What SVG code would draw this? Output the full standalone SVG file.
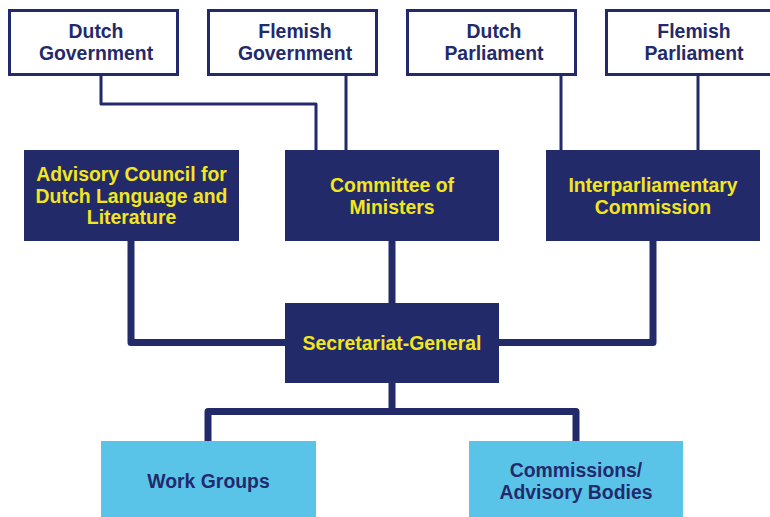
<svg xmlns="http://www.w3.org/2000/svg" width="770" height="517" viewBox="0 0 770 517">
  <style>
    text { font-family: "Liberation Sans", Arial, sans-serif; font-weight: bold; font-size: 19.4px; text-anchor: middle; }
    .outline rect { fill: #ffffff; stroke: #232a6b; stroke-width: 3; }
    .outline text { fill: #232a6b; }
    .dark rect { fill: #222a6a; }
    .dark text { fill: #f3e61c; }
    .light rect { fill: #5ac4e8; }
    .light text { fill: #232a6b; }
    .thin { fill: none; stroke: #232a6b; stroke-width: 3; stroke-linejoin: round; }
    .thick { fill: none; stroke: #222a6a; stroke-width: 7; stroke-linejoin: round; }
  </style>
  <rect width="770" height="517" fill="#ffffff"/>

  <!-- connectors -->
  <g id="connectors">
    <path class="thin" d="M101 75 V104 H316 V150"/>
    <path class="thin" d="M346 75 V150"/>
    <path class="thin" d="M561 75 V150"/>
    <path class="thin" d="M698 75 V150"/>
    <path class="thick" d="M131 241 V342.5 H285"/>
    <path class="thick" d="M653 241 V342.5 H499"/>
    <path class="thick" d="M392 241 V303"/>
    <path class="thick" d="M392 383 V411.5"/>
    <path class="thick" d="M208 441 V411.5 H576 V441"/>
  </g>

  <!-- top row -->
  <g id="dutch-government" class="outline">
    <rect x="9.5" y="10.5" width="168" height="64"/>
    <text x="96" y="38">Dutch</text>
    <text x="96" y="60">Government</text>
  </g>
  <g id="flemish-government" class="outline">
    <rect x="208.5" y="10.5" width="168" height="64"/>
    <text x="295" y="38">Flemish</text>
    <text x="295" y="60">Government</text>
  </g>
  <g id="dutch-parliament" class="outline">
    <rect x="407.5" y="10.5" width="168" height="64"/>
    <text x="494" y="38">Dutch</text>
    <text x="494" y="60">Parliament</text>
  </g>
  <g id="flemish-parliament" class="outline">
    <rect x="606.5" y="10.5" width="168" height="64"/>
    <text x="694" y="38">Flemish</text>
    <text x="694" y="60">Parliament</text>
  </g>

  <!-- middle row -->
  <g id="advisory-council" class="dark">
    <rect x="24" y="150" width="215" height="91"/>
    <text x="131.5" y="181">Advisory Council for</text>
    <text x="131.5" y="202.5">Dutch Language and</text>
    <text x="131.5" y="224">Literature</text>
  </g>
  <g id="committee-of-ministers" class="dark">
    <rect x="285" y="150" width="214" height="91"/>
    <text x="392" y="192">Committee of</text>
    <text x="392" y="213.5">Ministers</text>
  </g>
  <g id="interparliamentary-commission" class="dark">
    <rect x="546" y="150" width="214" height="91"/>
    <text x="653" y="192">Interparliamentary</text>
    <text x="653" y="213.5">Commission</text>
  </g>

  <!-- secretariat -->
  <g id="secretariat-general" class="dark">
    <rect x="285" y="303" width="214" height="80"/>
    <text x="392" y="350">Secretariat-General</text>
  </g>

  <!-- bottom row -->
  <g id="work-groups" class="light">
    <rect x="101" y="441" width="215" height="80"/>
    <text x="208.5" y="488">Work Groups</text>
  </g>
  <g id="commissions-advisory-bodies" class="light">
    <rect x="469" y="441" width="214" height="80"/>
    <text x="576" y="477">Commissions/</text>
    <text x="576" y="498.5">Advisory Bodies</text>
  </g>
</svg>
